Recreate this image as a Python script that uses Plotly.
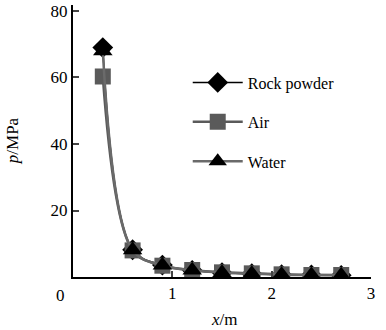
import plotly.graph_objects as go

x_m = [0.3, 0.6, 0.9, 1.2, 1.5, 1.8, 2.1, 2.4, 2.7]
rock_powder = [69.0, 8.2, 3.6, 2.0, 1.3, 1.0, 0.7, 0.6, 0.5]
air = [60.3, 8.0, 3.4, 2.1, 1.4, 1.1, 0.8, 0.6, 0.6]
water = [68.0, 8.1, 3.5, 2.0, 1.3, 1.0, 0.7, 0.6, 0.5]

x_ticks = [1, 2, 3]
y_ticks = [20, 40, 60, 80]

FONT = "Liberation Serif"

fig = go.Figure()
fig.add_trace(go.Scatter(
    x=x_m, y=rock_powder, name="Rock powder", mode="lines+markers", line_shape="spline",
    line=dict(color="black", width=1.5),
    marker=dict(symbol="diamond", size=16, color="black"),
    legend="legend", showlegend=True))
fig.add_trace(go.Scatter(
    x=x_m, y=air, name="Air", mode="lines+markers", line_shape="spline",
    line=dict(color="#5a5a5a", width=2.5),
    marker=dict(symbol="square", size=16, color="#5a5a5a"),
    legend="legend2", showlegend=True))
fig.add_trace(go.Scatter(
    x=x_m, y=water, name="Water", mode="lines+markers", line_shape="spline",
    line=dict(color="#6a6a6a", width=2.5),
    marker=dict(symbol="triangle-up", size=17, color="black"),
    legend="legend3", showlegend=True))

leg_common = dict(font=dict(family=FONT, size=16, color="black"),
                  bgcolor="rgba(0,0,0,0)", xanchor="left", yanchor="middle",
                  x=0.385, itemwidth=50)
fig.update_layout(
    width=386, height=330,
    margin=dict(l=73, r=15, t=5, b=53),
    paper_bgcolor="white", plot_bgcolor="white",
    font=dict(family=FONT, size=16, color="black"),
    showlegend=True,
    legend=dict(**leg_common, y=0.715),
    legend2=dict(**leg_common, y=0.57),
    legend3=dict(**leg_common, y=0.425),
    xaxis=dict(range=[0, 3], tickvals=x_ticks, ticks="inside", ticklen=6,
               tickwidth=1.5, showline=True, linecolor="black", linewidth=2,
               showgrid=False, zeroline=False, automargin=False,
               tickfont=dict(family=FONT, size=17)),
    yaxis=dict(range=[0, 81.8], tickvals=y_ticks, ticks="inside", ticklen=6,
               tickwidth=1.5, showline=True, linecolor="black", linewidth=2,
               showgrid=False, zeroline=False, automargin=False,
               tickfont=dict(family=FONT, size=17)),
)
fig.add_annotation(x=0, y=0, xref="x", yref="y", text="0", showarrow=False,
                   xshift=-13, yshift=-18, font=dict(family=FONT, size=17))
fig.add_annotation(x=0.51, y=-0.155, xref="paper", yref="paper", text="<i>x</i>/m",
                   showarrow=False, yanchor="middle", font=dict(family=FONT, size=17))
fig.add_annotation(x=-0.204, y=0.5, xref="paper", yref="paper", text="<i>p</i>/MPa",
                   textangle=-90, showarrow=False, xanchor="center", yanchor="middle",
                   font=dict(family=FONT, size=17))
fig.write_html("out.html", config={"displayModeBar": False},
               post_script="document.body.style.margin='0';")
